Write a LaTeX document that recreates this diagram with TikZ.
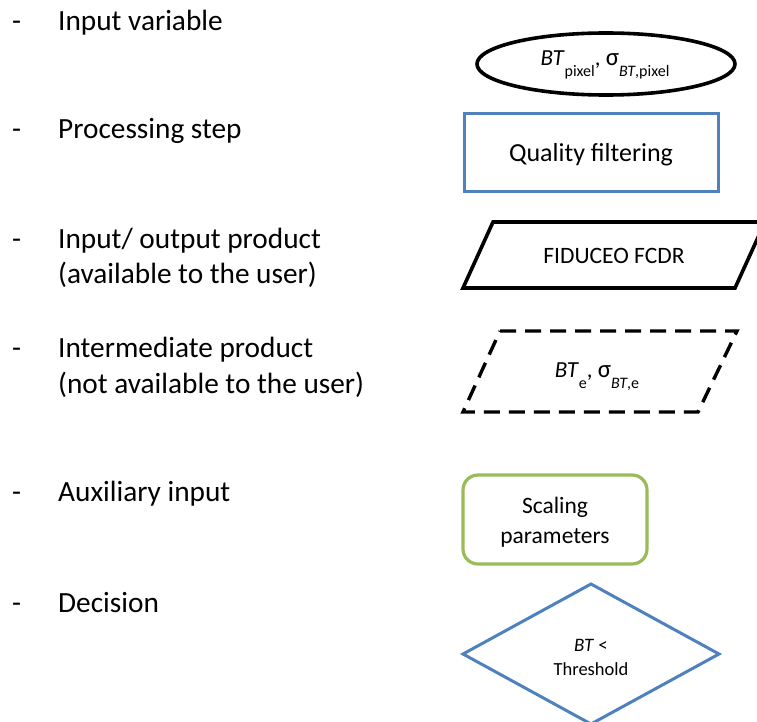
\documentclass[tikz,border=0pt]{standalone}
\usepackage{fontspec}
\setmainfont{Carlito}
\definecolor{boxblue}{HTML}{4F81BD}
\definecolor{auxgreen}{HTML}{9BBB59}
\newcommand\lowsub[1]{\raisebox{-11pt}{\fontsize{16}{16}\selectfont #1}}
\newcommand\bigsigma{{\fontsize{25}{25}\selectfont σ}}
\begin{document}
\begin{tikzpicture}[x=1pt,y=-1pt,
  legend/.style={anchor=base west,inner sep=0pt,font=\fontsize{29.3}{35}\selectfont},
  dashmark/.style={anchor=base west,inner sep=0pt,font=\fontsize{29.3}{35}\selectfont},
  shapetext/.style={anchor=base,inner sep=0pt},
  blackline/.style={draw=black,line width=3.6pt},
  blueline/.style={draw=boxblue,line width=3pt},
  greenline/.style={draw=auxgreen,line width=3.2pt,rounded corners=15pt},
  dashline/.style={draw=black,line width=3.4pt,dash pattern=on 16pt off 9pt}]
\useasboundingbox (0,0) rectangle (757,722);
\clip (0,0) rectangle (757,722);

% legend texts
\node[dashmark] (d1) at (12,31) {-};
\node[legend] (l1) at (58,31) {Input variable};
\node[dashmark] (d2) at (12,139) {-};
\node[legend] (l2) at (58,139) {Processing step};
\node[dashmark] (d3) at (12,248) {-};
\node[legend] (l3a) at (58,248) {Input/ output product};
\node[legend] (l3b) at (58,283) {(available to the user)};
\node[dashmark] (d4) at (12,357) {-};
\node[legend] (l4a) at (58,357) {Intermediate product};
\node[legend] (l4b) at (58,393) {(not available to the user)};
\node[dashmark] (d5) at (12,501) {-};
\node[legend] (l5) at (58,501) {Auxiliary input};
\node[dashmark] (d6) at (12,612) {-};
\node[legend] (l6) at (58,612) {Decision};

% input variable ellipse
\draw[blackline] (606,64) ellipse [x radius=129, y radius=31];
\node[shapetext,font=\fontsize{23}{23}\selectfont] (t1) at (605,66)
  {\textit{BT}\lowsub{pixel}, \bigsigma\lowsub{\textit{BT},pixel}};

% processing step
\draw[blueline] (464,114) rectangle (718,192);
\node[shapetext,font=\fontsize{26}{26}\selectfont] (t2) at (591,162) {Quality filtering};

% input/output product
\draw[blackline] (493,222) -- (765,222) -- (735,288) -- (463,288) -- cycle;
\node[shapetext,font=\fontsize{23.5}{23.5}\selectfont] (t3) at (614,263) {FIDUCEO FCDR};

% intermediate product
\draw[dashline] (500,331) -- (737,331) -- (698,412) -- (463,412) -- cycle;
\node[shapetext,font=\fontsize{23}{23}\selectfont] (t4) at (597,377)
  {\textit{BT}\lowsub{e}, \bigsigma\lowsub{\textit{BT},e}};

% auxiliary input
\draw[greenline] (463,475) rectangle (647,564);
\node[shapetext,font=\fontsize{23.5}{23.5}\selectfont] (t5a) at (555,513) {Scaling};
\node[shapetext,font=\fontsize{23.5}{23.5}\selectfont] (t5b) at (555,543) {parameters};

% decision
\draw[blueline] (463,654) -- (591,584) -- (719,654) -- (591,724) -- cycle;
\node[shapetext,font=\fontsize{19}{19}\selectfont] (t6a) at (591,651) {\textit{BT} <};
\node[shapetext,font=\fontsize{18.5}{18.5}\selectfont] (t6b) at (591,675) {Threshold};
\end{tikzpicture}
\end{document}
